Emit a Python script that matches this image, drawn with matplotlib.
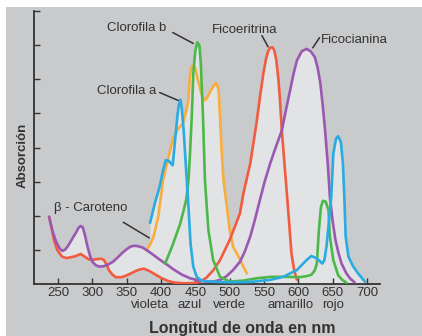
import matplotlib
matplotlib.use("Agg")
import matplotlib.pyplot as plt
from matplotlib.patches import Polygon, Rectangle

# Absorption spectra of photosynthetic pigments
wl_red = [237, 241, 244, 249, 256, 262, 268, 276, 283, 289, 295, 301, 307, 313, 317, 321, 324, 329, 334, 343,
          352, 361, 368, 375, 383, 390, 400, 410, 420, 435, 450, 458, 466, 476, 486, 500, 508, 515, 520, 530,
          539, 545, 549, 553, 556, 559, 562, 565, 568, 571, 573, 576, 581, 586, 590, 594, 598]
abs_red = [1.97, 1.6, 1.29, 0.99, 0.8, 0.76, 0.78, 0.82, 0.88, 0.8, 0.72, 0.71, 0.73, 0.74, 0.7, 0.56, 0.41, 0.28, 0.2, 0.2,
           0.27, 0.36, 0.42, 0.45, 0.38, 0.3, 0.18, 0.09, 0.04, 0.02, 0.03, 0.08, 0.18, 0.4, 0.7, 1.29, 1.7, 2.07, 2.65, 3.53,
           4.7, 5.6, 6.16, 6.6, 6.82, 6.92, 6.94, 6.85, 6.55, 6.0, 5.48, 4.5, 3.24, 1.97, 0.9, 0.4, 0.12]

wl_pur = [237, 242, 247, 252, 256, 260, 264, 270, 276, 280, 283, 286, 289, 293, 297, 300, 305, 310, 316, 322,
          330, 337, 344, 350, 356, 361, 366, 373, 380, 387, 395, 402, 410, 418, 430, 442, 455, 466, 476, 486,
          495, 505, 515, 522, 530, 537, 544, 551, 559, 567, 576, 582, 588, 593, 598, 605, 612, 618, 624,
          628, 632, 636, 639, 643, 646, 650, 654, 658, 663, 670, 676, 682]
abs_pur = [1.97, 1.55, 1.25, 1.05, 0.97, 1.0, 1.1, 1.3, 1.5, 1.65, 1.7, 1.66, 1.45, 1.09, 0.8, 0.65, 0.55, 0.51, 0.52, 0.56,
           0.65, 0.78, 0.92, 1.02, 1.1, 1.12, 1.11, 1.07, 0.98, 0.88, 0.76, 0.66, 0.55, 0.43, 0.28, 0.17, 0.1, 0.07, 0.07, 0.12,
           0.22, 0.41, 0.65, 0.95, 1.39, 1.9, 2.46, 3.0, 3.53, 4.0, 4.5, 5.1, 5.67, 6.15, 6.55, 6.82, 6.89, 6.82, 6.65,
           6.35, 5.9, 5.15, 4.5, 3.5, 2.55, 1.85, 1.3, 0.95, 0.6, 0.31, 0.15, 0.05]

wl_orange = [379, 384, 389, 396, 403, 411, 418, 425, 432, 437, 440, 442, 444, 446, 448, 450, 454, 459, 463, 466,
             469, 474, 478, 480, 482, 484, 486, 488, 491, 496, 500, 505, 513, 519, 525]
abs_orange = [0.99, 1.15, 1.38, 1.97, 3.04, 3.73, 4.3, 4.55, 4.7, 5.09, 5.38, 6.1, 6.32, 6.4, 6.4, 6.33, 5.96, 5.57, 5.38, 5.42,
              5.53, 5.72, 5.84, 5.89, 5.82, 5.67, 4.9, 4.02, 3.04, 2.26, 1.58, 1.09, 0.8, 0.55, 0.31]

wl_blue = [384, 391, 398, 403, 407, 411, 417, 420, 424, 426, 428, 430, 433, 436, 440, 443, 447, 452, 459, 471,
           500, 530, 559, 578, 598, 612, 619, 627, 635, 638, 641, 644, 648, 651, 655, 658, 662, 665, 667, 669,
           673, 680, 687, 697]
abs_blue = [1.79, 2.36, 2.85, 3.33, 3.63, 3.61, 3.48, 4.11, 4.94, 5.25, 5.4, 5.2, 4.5, 3.53, 2.26, 1.19, 0.51, 0.21, 0.1, 0.07,
            0.05, 0.06, 0.12, 0.21, 0.41, 0.7, 0.82, 0.75, 0.6, 0.7, 1.09, 1.7, 2.55, 3.82, 4.26, 4.33, 4.16, 3.53, 2.55, 1.39,
            0.8, 0.51, 0.31, 0.07]

wl_green = [406, 416, 428, 433, 437, 440, 442, 445, 447, 450, 453, 456, 458, 461, 464, 469, 476, 486, 500, 520,
            540, 560, 580, 602, 612, 619, 624, 627, 630, 633, 636, 640, 644, 646, 651, 658, 664, 670]
abs_green = [0.6, 1.09, 1.77, 2.16, 2.5, 3.04, 3.72, 4.99, 6.16, 6.84, 7.08, 6.99, 6.45, 4.99, 3.04, 1.58, 0.7, 0.21, 0.07, 0.1,
             0.17, 0.21, 0.21, 0.2, 0.23, 0.27, 0.4, 0.6, 1.58, 2.26, 2.44, 2.41, 2.16, 1.39, 0.7, 0.26, 0.12, 0.04]

tick_wl = [250, 300, 350, 400, 450, 500, 550, 600, 650, 700]
colour_names = ["violeta", "azul", "verde", "amarillo", "rojo"]
colour_wl = [384, 442, 500, 588, 650]

BG = "#c9cacc"
FILL = "#e2e3e4"
INK = "#333333"

plt.rcParams['font.family'] = ['Liberation Sans', 'DejaVu Sans']

fig = plt.figure(figsize=(4.22, 3.36), dpi=100)
fig.patch.set_facecolor("white")
fig.patches.append(Rectangle((6 / 422, 0), 1, 1 - 7 / 336, transform=fig.transFigure,
                             facecolor=BG, edgecolor="none", zorder=-5))

ax = fig.add_axes([34 / 422, 52 / 336, 346 / 422, 273 / 336])
ax.set_facecolor("none")
ax.set_xlim(215, 719)
ax.set_ylim(0, 8)

curves = [
    (wl_orange, abs_orange, "#f8ae3e"),
    (wl_red, abs_red, "#f15b3f"),
    (wl_pur, abs_pur, "#9a58b2"),
    (wl_green, abs_green, "#4db84a"),
    (wl_blue, abs_blue, "#2aabe2"),
]

# light shading under the envelope of all curves
for wl, ab, c in curves:
    ax.fill_between(wl, 0, ab, color=FILL, lw=0, zorder=1, antialiased=False)

# below both red and purple on the left the background shows through:
# area under red, clipped to the area under purple (both widened a bit on the left)
n_left = sum(1 for w in wl_red if w <= 430)
left = wl_red[0] - 4
red_xy = [(left, 0), (left, abs_red[0])] + list(zip(wl_red[:n_left], abs_red[:n_left])) + [(wl_red[n_left - 1], 0)]
under = Polygon(red_xy, closed=True, facecolor=BG, edgecolor="none", zorder=1.5, antialiased=False)
ax.add_patch(under)
pur_xy = [(left, 0), (left, abs_pur[0])] + list(zip(wl_pur, abs_pur)) + [(wl_pur[-1], 0)]
pur_poly = Polygon(pur_xy, closed=True, transform=ax.transData)
under.set_clip_path(pur_poly)

for wl, ab, c in curves:
    ax.plot(wl, ab, color=c, lw=1.9, solid_capstyle="round", zorder=3)

for s in ["top", "right"]:
    ax.spines[s].set_visible(False)
for s in ["left", "bottom"]:
    ax.spines[s].set_color(INK)
    ax.spines[s].set_linewidth(1.3)

ax.set_yticks(range(1, 9))
ax.set_yticklabels([])
ax.set_xticks(tick_wl)
ax.tick_params(axis="both", direction="in", length=4, width=1, color=INK)
ax.tick_params(axis="x", labelsize=9.5, labelcolor=INK, pad=2.5)

for name, w in zip(colour_names, colour_wl):
    ax.text(w, -0.077, name, transform=ax.get_xaxis_transform(), ha="center", va="center",
            fontsize=9.5, color=INK)

fig.text(242 / 422, 1 - 328 / 336, "Longitud de onda en nm", ha="center", va="center",
         fontsize=11.5, fontweight="bold", color=INK)
fig.text(23 / 422, 1 - 155 / 336, "Absorción", ha="center", va="center", rotation=90,
         fontsize=9.5, fontweight="bold", color=INK)

# labels with leader lines
labels = [
    ("Clorofila b", (365, 7.49), (417, 7.37), (447, 7.05)),
    ("Ficoeritrina", (522, 7.43), (547, 7.28), (556, 6.95)),
    ("Ficocianina", (682, 7.16), (631, 7.22), (621, 6.92)),
    ("Clorofila a", (350, 5.67), (398, 5.61), (425, 5.38)),
    ("β - Caroteno", (297, 2.22), (345, 1.81), (383, 1.35)),
]
for txt, pos, p0, p1 in labels:
    ax.text(pos[0], pos[1], txt, ha="center", va="center", fontsize=9.5, color=INK, clip_on=False)
    ax.annotate("", xy=p1, xytext=p0, annotation_clip=False,
                arrowprops=dict(arrowstyle="-", color=INK, lw=1.1, shrinkA=0, shrinkB=0))

fig.savefig("out.png", dpi=100)
